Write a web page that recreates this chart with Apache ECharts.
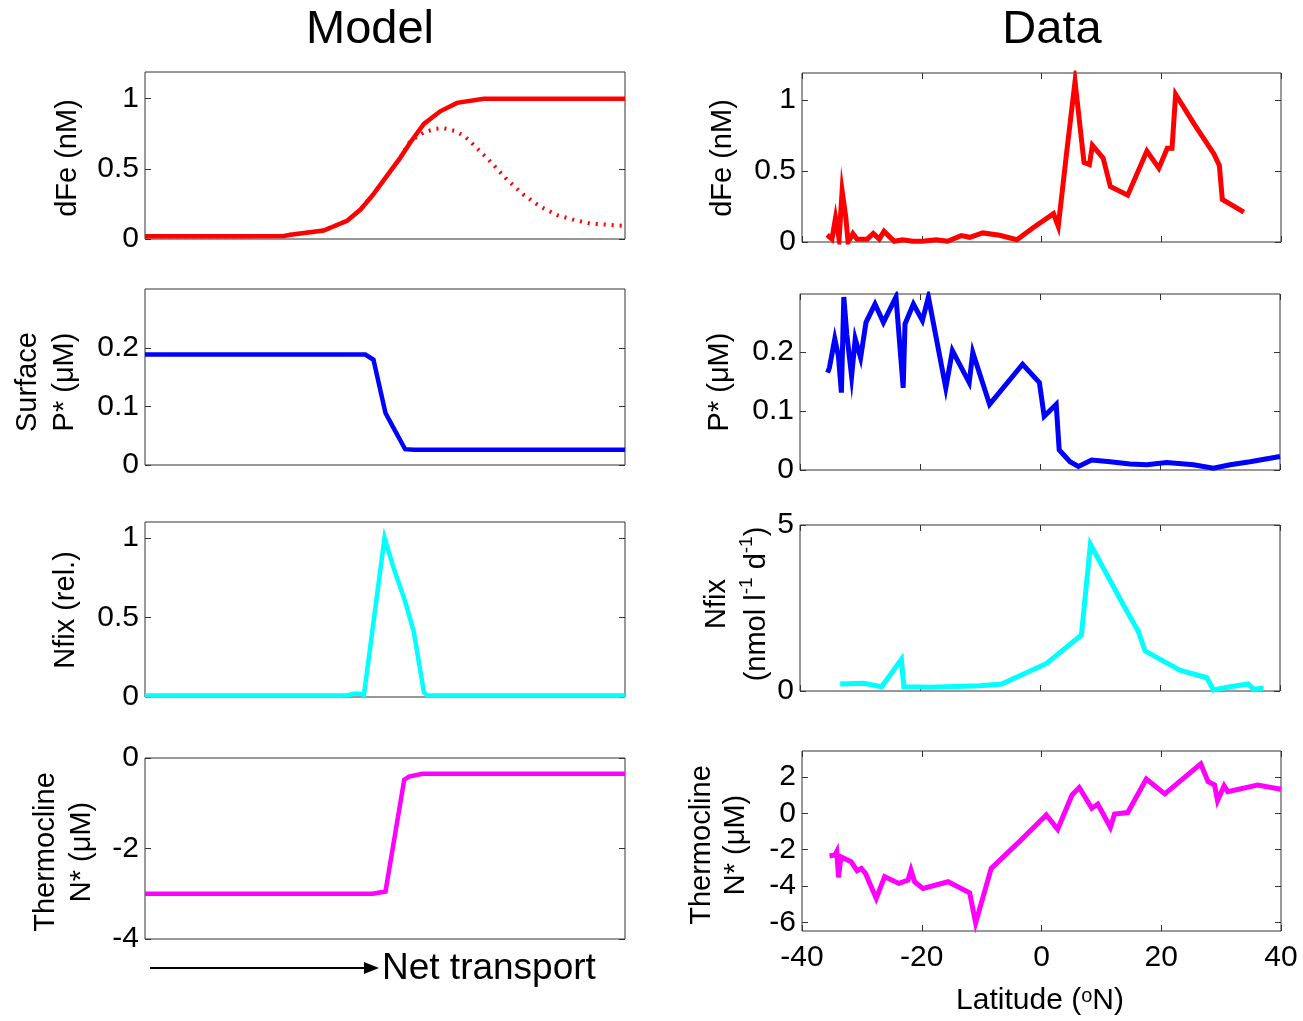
<!DOCTYPE html>
<html><head><meta charset="utf-8">
<script src="https://cdn.jsdelivr.net/npm/echarts@6/dist/echarts.min.js"></script>
<style>html,body{margin:0;padding:0;background:#fff}#c{width:1303px;height:1021px}</style>
</head><body><div id="c"></div><script>
// ---------- Model (arbitrary net-transport axis, 0..100) ----------
const mFeX   = [0, 20, 28.9, 30.3, 37.2, 42.1, 44.9, 47.6, 50.4, 53.2, 55.3, 58.1, 61.5, 65.0, 70.6, 80, 100];
const mFeY   = [0.02, 0.02, 0.022, 0.03, 0.06, 0.13, 0.21, 0.32, 0.45, 0.58, 0.69, 0.82, 0.91, 0.97, 1.0, 1.0, 1.0];
const mFe2X  = [0, 20, 28.9, 30.3, 37.2, 42.1, 44.9, 47.6, 50.4, 53.2, 55.3, 58.1, 60.5, 62.2, 64.6, 66.7, 68.5, 72.0, 75.5, 78.9, 82.4, 85.9, 89.4, 92.8, 100];
const mFe2Y  = [0.02, 0.02, 0.022, 0.03, 0.06, 0.13, 0.21, 0.32, 0.45, 0.58, 0.70, 0.76, 0.785, 0.79, 0.77, 0.73, 0.67, 0.55, 0.42, 0.315, 0.23, 0.17, 0.136, 0.11, 0.093];
const mPX    = [0, 45.9, 47.6, 50.1, 51.8, 54.2, 56, 100];
const mPY    = [0.189, 0.189, 0.18, 0.089, 0.063, 0.027, 0.026, 0.026];
const mNfX   = [0, 42.1, 43.5, 44.9, 45.6, 49.9, 51.8, 54.2, 56.0, 58.1, 58.8, 100];
const mNfY   = [0.01, 0.01, 0.02, 0.02, 0.01, 1.0, 0.81, 0.6, 0.41, 0.03, 0.01, 0.01];
const mNsX   = [0, 47.4, 50.1, 54.0, 55.0, 57.8, 100];
const mNsY   = [-3.0, -3.0, -2.95, -0.48, -0.41, -0.35, -0.35];

// ---------- Data (latitude, °N) ----------
const feLat = [-35.8,-35.0,-34.4,-33.8,-33.3,-32.7,-32.3,-31.5,-30.8,-29.1,-28.1,-27.1,-26.3,-24.6,-23.2,-21.5,-19.9,-17.6,-15.7,-13.4,-12.0,-9.8,-7.0,-4.1,-1.4,2.0,2.8,4.2,5.6,7.1,8.0,8.5,10.3,11.5,14.4,17.6,19.6,21.0,21.8,22.4,25.5,28.8,29.7,30.2,33.8];
const feVal = [0.05,0.02,0.17,0.02,0.36,0.18,0.0,0.06,0.02,0.02,0.06,0.02,0.075,0.005,0.016,0.005,0.005,0.016,0.005,0.045,0.033,0.064,0.047,0.016,0.1,0.2,0.11,0.63,1.13,0.56,0.545,0.68,0.59,0.39,0.33,0.64,0.52,0.66,0.66,1.04,0.83,0.62,0.54,0.30,0.21];
const psLat = [-35.4,-35.1,-34.2,-33.6,-33.1,-32.7,-32.2,-31.4,-30.8,-29.9,-29.0,-27.5,-26.1,-24.0,-22.8,-22.5,-21.1,-19.6,-18.6,-15.7,-14.6,-11.8,-11.2,-8.4,-2.9,-0.1,0.7,2.7,3.2,5.0,6.4,8.6,11.7,15.0,17.8,21.1,25.6,28.9,31.7,35.0,40.0];
const psVal = [0.165,0.173,0.222,0.193,0.131,0.293,0.23,0.159,0.222,0.19,0.25,0.281,0.25,0.293,0.139,0.247,0.281,0.253,0.293,0.139,0.202,0.148,0.199,0.111,0.179,0.148,0.091,0.111,0.034,0.014,0.006,0.017,0.014,0.01,0.009,0.0125,0.009,0.003,0.009,0.014,0.023];
const nfLat = [-33.3,-29.4,-26.4,-23.1,-22.7,-18.3,-10.0,-6.4,1.1,6.9,8.4,13.9,16.4,17.5,23.3,27.8,28.9,31.7,34.7,35.6,37.2];
const nfVal = [0.21,0.23,0.13,0.95,0.13,0.11,0.16,0.21,0.83,1.69,4.42,2.59,1.79,1.21,0.63,0.40,0.03,0.13,0.21,0.05,0.08];
const nsLat = [-35.4,-34.5,-34.2,-33.9,-33.5,-33.2,-31.8,-30.8,-30.1,-29.4,-27.6,-26.2,-23.8,-22.3,-21.8,-21.2,-19.8,-15.6,-12.0,-11.0,-8.4,-3.7,0.8,2.7,5.1,6.3,8.4,9.4,11.5,12.2,14.4,17.5,20.6,26.6,27.8,28.9,29.4,30.5,31.1,36.1,40.0];
const nsVal = [-2.35,-2.30,-2.11,-3.53,-2.39,-2.39,-2.67,-3.16,-3.03,-3.31,-4.69,-3.49,-3.86,-3.68,-3.13,-3.77,-4.14,-3.77,-4.38,-6.03,-3.03,-1.56,-0.09,-0.88,1.01,1.42,0.28,0.50,-0.77,-0.04,0.04,1.88,1.07,2.72,1.75,1.56,0.70,1.51,1.19,1.56,1.32];

// ---------- Tick values ----------
const latTicks   = [-40, -20, 0, 20, 40];
const feTicks    = [0, 0.5, 1];
const pTicks     = [0, 0.1, 0.2];
const nfModTicks = [0, 0.5, 1];
const nfDatTicks = [0, 5];
const nsModTicks = [-4, -2, 0];
const nsDatTicks = [-6, -4, -2, 0, 2];

const FONT = 'Liberation Sans, Arial, sans-serif';
const zip = (a, b) => a.map((v, i) => [v, b[i]]);

const panels = [
  {g:{left:145, top:72,  width:480, height:167}, x:[0,100], y:[0,1.19],   yt:feTicks,    xt:null},
  {g:{left:145, top:289, width:480, height:176}, x:[0,100], y:[0,0.301],  yt:pTicks,     xt:null},
  {g:{left:145, top:522, width:480, height:175}, x:[0,100], y:[0,1.1],    yt:nfModTicks, xt:null},
  {g:{left:145, top:758, width:480, height:181}, x:[0,100], y:[-4,0],     yt:nsModTicks, xt:null},
  {g:{left:802, top:73,  width:479, height:169}, x:[-40,40], y:[0,1.19],  yt:feTicks,    xt:latTicks},
  {g:{left:800, top:294, width:480, height:176}, x:[-40,40], y:[0,0.298], yt:pTicks,     xt:latTicks},
  {g:{left:800, top:525, width:480, height:166}, x:[-40,40], y:[0,5],     yt:nfDatTicks, xt:latTicks},
  {g:{left:802, top:751, width:479, height:180}, x:[-40,40], y:[-6.48,3.43], yt:nsDatTicks, xt:latTicks, xl:true},
];

const grid = [], xAxis = [], yAxis = [];
const tickStyle = {color:'#333', width:1};
panels.forEach((p, i) => {
  grid.push(Object.assign({show:true, borderColor:'#333', borderWidth:1, backgroundColor:'#fff'}, p.g));
  ['bottom','top'].forEach(pos => {
    xAxis.push({
      type:'value', gridIndex:i, position:pos, min:p.x[0], max:p.x[1],
      axisLine:{show:false, onZero:false}, splitLine:{show:false},
      axisTick:{show:!!p.xt, inside:true, length:6, lineStyle:tickStyle, customValues:p.xt || []},
      axisLabel:{show:pos === 'bottom' && !!p.xl, customValues:p.xt || [], margin:12,
        fontSize:30, color:'#000', fontFamily:FONT}
    });
  });
  ['left','right'].forEach(pos => {
    yAxis.push({
      type:'value', gridIndex:i, position:pos, min:p.y[0], max:p.y[1],
      axisLine:{show:false, onZero:false}, splitLine:{show:false},
      axisTick:{show:true, inside:true, length:6, lineStyle:tickStyle, customValues:p.yt},
      axisLabel:{show:pos === 'left', customValues:p.yt, margin:6,
        fontSize:30, color:'#000', fontFamily:FONT}
    });
  });
});

function line(i, data, color, w, extra) {
  return Object.assign({
    type:'line', xAxisIndex:2*i, yAxisIndex:2*i, data:data, showSymbol:false, symbol:'none',
    silent:true, animation:false, clip:true,
    lineStyle:{color:color, width:w, join:'miter'}, itemStyle:{color:color}
  }, extra || {});
}

const series = [
  line(0, zip(mFe2X, mFe2Y), '#ff0000', 4, {lineStyle:{color:'#ff0000', width:4, type:[2,6], cap:'butt'}}),
  line(0, zip(mFeX, mFeY), '#ff0000', 4.5),
  line(1, zip(mPX, mPY), '#0000ff', 4.5),
  line(2, zip(mNfX, mNfY), '#00ffff', 4.5),
  line(3, zip(mNsX, mNsY), '#ff00ff', 4.5),
  line(4, zip(feLat, feVal), '#ff0000', 5),
  line(5, zip(psLat, psVal), '#0000ff', 5),
  line(6, zip(nfLat, nfVal), '#00ffff', 5),
  line(7, zip(nsLat, nsVal), '#ff00ff', 5),
];

const R = Math.PI / 2;
function ylab(x, y, text, rich, lh) {
  return {type:'text', x:x, y:y, rotation:R, z:10,
    style:{text:text, fontSize:29, fontFamily:FONT, fill:'#000', align:'center', verticalAlign:'middle',
      lineHeight:lh || 36, rich:rich || {}}};
}
const supRich = {s:{fontSize:19, fontFamily:FONT, fill:'#000', verticalAlign:'top', lineHeight:19, padding:[0,0,14,0]}};

const graphic = [
  {type:'text', x:370, y:30, z:10, style:{text:'Model', fontSize:47, fontFamily:FONT, fill:'#000', align:'center', verticalAlign:'middle'}},
  {type:'text', x:1052, y:30, z:10, style:{text:'Data', fontSize:47, fontFamily:FONT, fill:'#000', align:'center', verticalAlign:'middle'}},
  ylab(68, 158, 'dFe (nM)'),
  ylab(46, 382, 'Surface\nP* (μM)', null, 37),
  ylab(66, 610, 'Nfix (rel.)'),
  ylab(64, 852, 'Thermocline\nN* (μM)', null, 36),
  ylab(723, 158, 'dFe (nM)'),
  ylab(720, 382, 'P* (μM)'),
  ylab(737, 604, 'Nfix\n(nmol l{s|-1} d{s|-1})', {s:{fontSize:19, fontFamily:FONT, fill:'#000', verticalAlign:'top', lineHeight:19, padding:[0,0,16,0]}}, 40),
  ylab(719, 845, 'Thermocline\nN* (μM)', null, 34),
  {type:'text', x:1040, y:1001, z:10, style:{text:'Latitude ({s|o}N)', fontSize:30, fontFamily:FONT, fill:'#000',
    align:'center', verticalAlign:'middle', rich:{s:{fontSize:20, fontFamily:FONT, fill:'#000', verticalAlign:'top', lineHeight:20, padding:[0,0,14,0]}}}},
  {type:'line', z:10, shape:{x1:150, y1:968, x2:368, y2:968}, style:{stroke:'#000', lineWidth:2}},
  {type:'polygon', z:10, shape:{points:[[364,962],[379,968],[364,974]]}, style:{fill:'#000'}},
  {type:'text', x:382, y:969, z:10, style:{text:'Net transport', fontSize:37, fontFamily:FONT, fill:'#000', align:'left', verticalAlign:'middle'}},
];

const chart = echarts.init(document.getElementById('c'), null, {renderer:'canvas'});
chart.setOption({animation:false, backgroundColor:'#fff', grid, xAxis, yAxis, series, graphic});
</script></body></html>
